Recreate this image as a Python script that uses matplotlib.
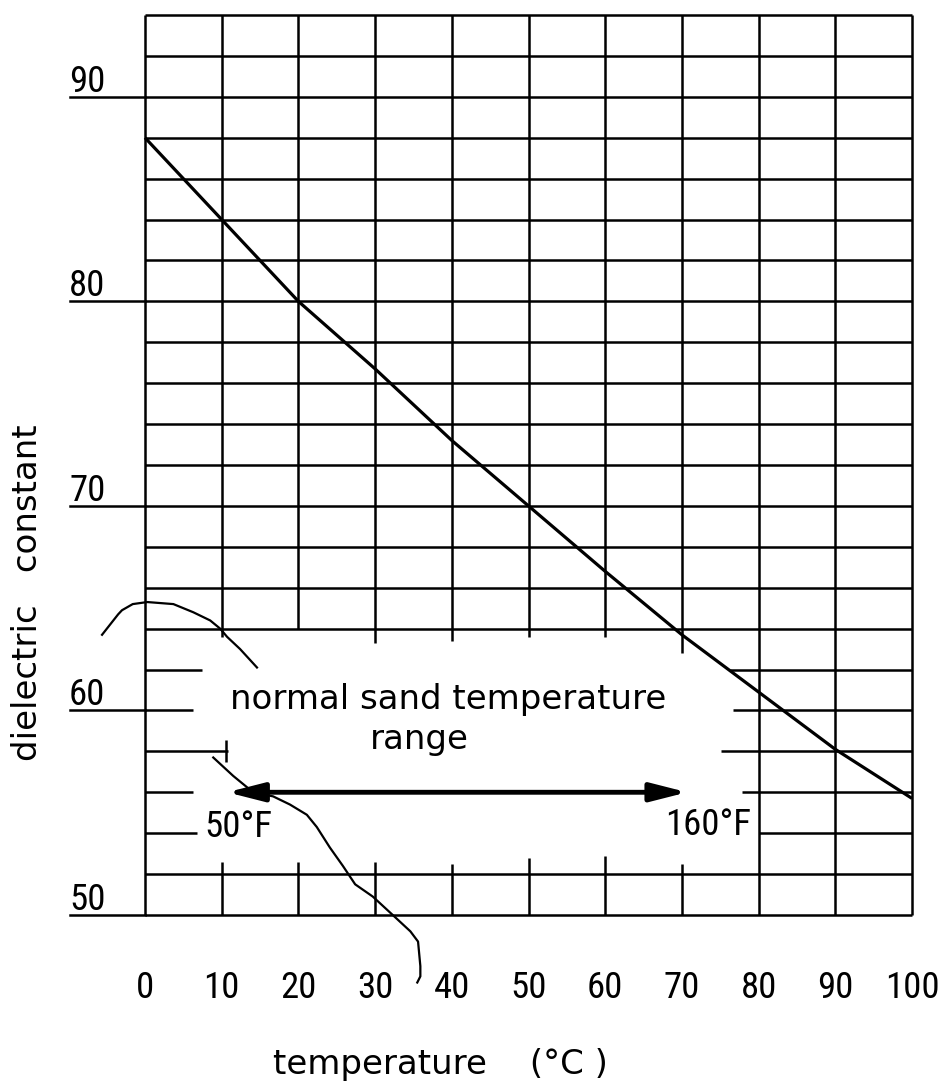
import numpy as np
import matplotlib.pyplot as plt
from matplotlib import font_manager

# dielectric constant of water vs temperature
temp_c = [0, 10, 20, 30, 40, 50, 60, 70, 80, 90, 100]
dielectric = [88.0, 84.0, 80.0, 76.7, 73.2, 70.0, 66.8, 63.7, 60.9, 58.1, 55.7]

x_ticks = [0, 10, 20, 30, 40, 50, 60, 70, 80, 90, 100]
x_tick_labels = ['0', '10', '20', '30', '40', '50', '60', '70', '80', '90', '100']
y_ticks = [50, 60, 70, 80, 90]
y_tick_labels = ['50', '60', '70', '80', '90']

# normal sand temperature range, 50°F .. 160°F
sand_range_c = [10.7, 70.7]
sand_range_f = ['50°F', '160°F']

# hand drawn pointer strokes on the original (°C, dielectric)
pointer1_x = [-5.6, -3.5, -3.0, -1.6, 0.3, 3.7, 6.3, 8.5, 9.8, 10.7, 12.4, 14.6]
pointer1_y = [63.7, 64.7, 64.9, 65.2, 65.3, 65.2, 64.8, 64.4, 64.0, 63.6, 63.0, 62.1]
pointer2_x = [8.9, 11.5, 14.1, 16.7, 18.9, 21.1, 22.4, 24.1, 25.8, 27.4, 29.7,
              32.3, 34.6, 35.6, 35.9, 35.9, 35.5]
pointer2_y = [57.7, 56.8, 56.0, 55.8, 55.4, 54.9, 54.3, 53.3, 52.4, 51.5, 50.9,
              50.0, 49.2, 48.7, 47.5, 47.0, 46.7]

FONT = 'DejaVu Sans'
FS = 24.5

# the lettering on the original has narrow digits; use a condensed face if there is one
fonts = font_manager.fontManager.ttflist
names = {f.name for f in fonts}
num_kw = dict(family='DejaVu Sans', fontsize=22.5)
for cand in ['Roboto Condensed', 'Open Sans Condensed', 'Liberation Sans Narrow']:
    if cand in names:
        num_kw = dict(family=cand, fontsize=26.5)
        break
else:
    if any(f.name == 'DejaVu Sans' and f.stretch == 'condensed' and f.weight == 400
           for f in fonts):
        num_kw = dict(family='DejaVu Sans', fontstretch='condensed', fontsize=25)

W, H = 942, 1089

fig = plt.figure(figsize=(W / 100, H / 100), dpi=100)
ax = fig.add_axes([145 / W, (H - 915) / H, 767 / W, 900 / H])
ax.set_xlim(0, 100)
ax.set_ylim(50, 94)
ax.axis('off')

grid_kw = dict(color='black', lw=1.8, clip_on=False)

# grid, with the blank patch left for the annotation
vgap_top = {10: 63.6, 20: 64.0, 30: 63.3, 40: 63.4, 50: 63.6, 60: 63.6, 70: 62.8}
vgap_bot = {10: 52.6, 20: 52.6, 30: 52.6, 40: 52.5, 50: 52.8, 60: 52.9, 70: 52.5}
for gx in range(0, 101, 10):
    if gx in vgap_top:
        ax.vlines(gx, vgap_top[gx], 94, **grid_kw)
        ax.vlines(gx, 50, vgap_bot[gx], **grid_kw)
    else:
        ax.vlines(gx, 50, 94, **grid_kw)

hgap = {62: (7.4, 76.3), 60: (6.3, 76.7), 58: (10.8, 75.1),
        56: (6.2, 77.8), 54: (6.8, 80.0)}
for gy in range(50, 95, 2):
    if gy in hgap:
        a, b = hgap[gy]
        ax.hlines(gy, 0, a, **grid_kw)
        ax.hlines(gy, b, 100, **grid_kw)
    else:
        ax.hlines(gy, 0, 100, **grid_kw)

# small cross mark at the end of the 58 line
ax.vlines(10.6, 57.5, 58.55, **grid_kw)

# y tick labels sit on a line running out to the left
for v, lab in zip(y_ticks, y_tick_labels):
    ax.plot([-9.8, 0], [v, v], **grid_kw)
    ax.text(-9.9, v + 0.25, lab, ha='left', va='baseline', clip_on=False, **num_kw)

for v, lab in zip(x_ticks, x_tick_labels):
    ax.text(v, 46.43, lab, ha='center', va='center', clip_on=False, **num_kw)

# the curve
ax.plot(temp_c, dielectric, color='black', lw=2.3, clip_on=False,
        solid_capstyle='butt')

# sand temperature range arrow and text
ax.annotate('', xy=(sand_range_c[1], 56.0), xytext=(sand_range_c[0], 56.0),
            arrowprops=dict(arrowstyle='<|-|>,head_length=1.1,head_width=0.28',
                            mutation_scale=20, lw=3.5, color='black',
                            shrinkA=0, shrinkB=0))
ax.text(11.1, 60.05, 'normal sand temperature', fontsize=FS, family=FONT,
        ha='left', va='baseline')
ax.text(29.3, 58.1, 'range', fontsize=FS, family=FONT,
        ha='left', va='baseline')
ax.text(7.8, 53.8, sand_range_f[0], ha='left', va='baseline', **num_kw)
ax.text(67.8, 53.9, sand_range_f[1], ha='left', va='baseline', **num_kw)

# pointer scribbles
ax.plot(pointer1_x, pointer1_y, color='black', lw=1.6, clip_on=False)
ax.plot(pointer2_x, pointer2_y, color='black', lw=1.6, clip_on=False)

# axis titles
fig.text(28 / W, 1 - 593 / H, 'dielectric   constant', fontsize=FS, family=FONT,
         rotation=90, ha='center', va='center')
fig.text(273 / W, 1 - 1074 / H, 'temperature    (°C )', fontsize=FS, family=FONT,
         ha='left', va='baseline')

fig.savefig('out.png', dpi=100, facecolor='white')
